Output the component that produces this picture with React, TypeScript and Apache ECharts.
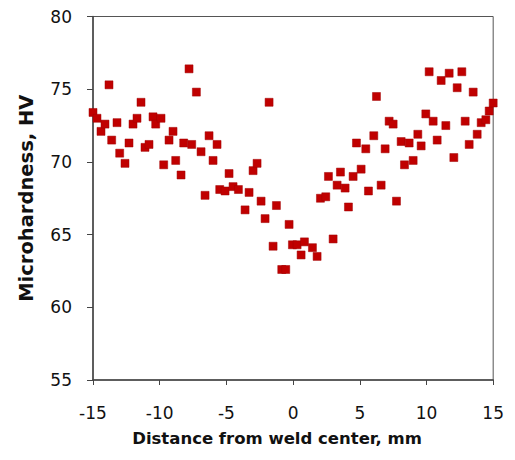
import React, { useEffect, useRef } from "react";
import * as echarts from "echarts";

const xValues = [
  -15.0, -14.7, -14.4, -14.1, -13.8, -13.6, -13.2, -13.0, -12.6, -12.3, -12.0, -11.7, -11.4, -11.1, -10.8,
  -10.5, -10.3, -9.9, -9.7, -9.3, -9.0, -8.8, -8.4, -8.2, -7.8, -7.6, -7.25, -6.9, -6.6, -6.3, -6.0, -5.7,
  -5.5, -5.1, -4.8, -4.5, -4.1, -3.6, -3.3, -3.0, -2.7, -2.4, -2.1, -1.8, -1.5, -1.25, -0.85, -0.55, -0.3,
  -0.05, 0.3, 0.6, 0.85, 1.45, 1.8, 2.05, 2.45, 2.65, 3.0, 3.3, 3.55, 3.9, 4.15, 4.5, 4.75, 5.1, 5.45, 5.65,
  6.05, 6.25, 6.6, 6.9, 7.2, 7.5, 7.75, 8.1, 8.35, 8.7, 9.0, 9.35, 9.6, 9.95, 10.2, 10.5, 10.8, 11.1, 11.45,
  11.7, 12.05, 12.3, 12.65, 12.9, 13.2, 13.5, 13.8, 14.1, 14.45, 14.7, 15.0,
];
const yValues = [
  73.4, 73.0, 72.1, 72.6, 75.3, 71.5, 72.7, 70.6, 69.9, 71.3, 72.6, 73.0, 74.1, 71.0, 71.2,
  73.1, 72.6, 73.0, 69.8, 71.5, 72.1, 70.1, 69.1, 71.3, 76.4, 71.2, 74.8, 70.7, 67.7, 71.8, 70.1, 71.2,
  68.1, 68.0, 69.2, 68.3, 68.1, 66.7, 67.9, 69.4, 69.9, 67.3, 66.1, 74.1, 64.2, 67.0, 62.6, 62.6, 65.7,
  64.3, 64.3, 63.6, 64.5, 64.1, 63.5, 67.5, 67.6, 69.0, 64.7, 68.4, 69.3, 68.2, 66.9, 69.0, 71.3, 69.5, 70.9, 68.0,
  71.8, 74.5, 68.4, 70.9, 72.8, 72.6, 67.3, 71.4, 69.8, 71.3, 70.1, 71.9, 71.1, 73.3, 76.2, 72.8, 71.5, 75.6, 72.5,
  76.1, 70.3, 75.1, 76.2, 72.8, 71.2, 74.8, 71.9, 72.7, 72.9, 73.5, 74.05,
];
const xTicks = { min: -15, max: 15, interval: 5 };
const yTicks = { min: 55, max: 80, interval: 5 };
const xTitle = "Distance from weld center, mm";
const yTitle = "Microhardness, HV";

export default function App() {
  const ref = useRef<HTMLDivElement>(null);
  useEffect(() => {
    if (!ref.current) return;
    const chart = echarts.init(ref.current, null, { renderer: "svg" });
    const data = xValues.map((x, i) => [x, yValues[i]]);
    const font = "DejaVu Sans";
    chart.setOption({
      animation: false,
      backgroundColor: "#ffffff",
      grid: {
        left: 81,
        right: 4,
        top: 8,
        bottom: 62,
        show: true,
        borderColor: "#555555",
        borderWidth: 1,
      },
      xAxis: {
        type: "value",
        min: xTicks.min,
        max: xTicks.max,
        interval: xTicks.interval,
        splitLine: { show: false },
        axisLine: { onZero: false, lineStyle: { color: "#444444", width: 1.5 } },
        axisTick: { show: true, inside: false, length: 5, lineStyle: { color: "#444444" } },
        axisLabel: { color: "#111111", fontFamily: font, fontSize: 17, margin: 24 },
        name: xTitle,
        nameLocation: "middle",
        nameGap: 50,
        nameTextStyle: {
          color: "#111111",
          fontFamily: font,
          fontWeight: "bold",
          fontSize: 16.5,
          padding: [0, 32, 0, 0],
        },
      },
      yAxis: {
        type: "value",
        min: yTicks.min,
        max: yTicks.max,
        interval: yTicks.interval,
        splitLine: { show: false },
        axisLine: { onZero: false, lineStyle: { color: "#444444", width: 1.5 } },
        axisTick: { show: true, inside: false, length: 6, lineStyle: { color: "#444444" } },
        axisLabel: { color: "#111111", fontFamily: font, fontSize: 17, margin: 21 },
        name: yTitle,
        nameLocation: "middle",
        nameGap: 57,
        nameTextStyle: {
          color: "#111111",
          fontFamily: font,
          fontWeight: "bold",
          fontSize: 19.5,
        },
      },
      series: [
        {
          type: "scatter",
          data,
          symbol: "rect",
          symbolSize: 8,
          itemStyle: { color: "#c00000", borderColor: "#a00000", borderWidth: 0.5, opacity: 1 },
        },
      ],
    });
    return () => chart.dispose();
  }, []);
  return <div ref={ref} style={{ width: 499, height: 444 }} />;
}
